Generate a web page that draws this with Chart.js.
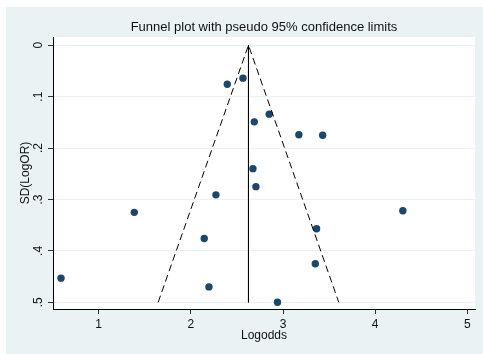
<!DOCTYPE html>
<html>
<head>
<meta charset="utf-8">
<script src="https://cdn.jsdelivr.net/npm/chart.js@4/dist/chart.umd.min.js"></script>
<style>
  html, body { margin: 0; padding: 0; background: #fff; }
  #wrap { width: 483px; height: 354px; }
</style>
</head>
<body>
<div id="wrap"><canvas id="funnel"></canvas></div>
<script>
// study estimates
const logOdds = [2.395, 2.565, 2.85, 2.688, 3.172, 3.43, 2.674, 2.706, 2.272, 1.386,
                 4.30, 3.364, 2.145, 3.35, 0.591, 2.196, 2.94];
const sdLogOR = [0.076, 0.064, 0.134, 0.149, 0.174, 0.175, 0.240, 0.275, 0.291, 0.325,
                 0.322, 0.357, 0.376, 0.425, 0.453, 0.470, 0.500];

// pooled estimate and pseudo 95% limits
const pooledX = [2.625, 2.625];
const pooledY = [0, 0.5];
const limitX = [1.645, 2.625, 3.605];
const limitY = [0.5, 0, 0.5];

const xTicks = [1, 2, 3, 4, 5];
const yTicks = [0, 0.1, 0.2, 0.3, 0.4, 0.5];
const yTickLabels = ['0', '.1', '.2', '.3', '.4', '.5'];

const navy = '#1A476F';
const band = '#EAF2F3';
const font = { family: 'Liberation Sans, Arial, sans-serif', size: 12 };

const zip = (xs, ys) => xs.map((x, i) => ({ x: x, y: ys[i] }));

// outer graph region and white plot region, Stata style
const backdrop = {
  id: 'backdrop',
  beforeDraw(chart) {
    const { ctx, chartArea: a } = chart;
    ctx.save();
    ctx.fillStyle = '#fff';
    ctx.fillRect(0, 0, chart.width, chart.height);
    ctx.fillStyle = band;
    ctx.fillRect(6, 7, chart.width - 6, chart.height - 7);
    ctx.fillStyle = '#fff';
    ctx.fillRect(a.left, a.top, a.right - a.left, a.bottom - a.top);
    ctx.restore();
  }
};

new Chart(document.getElementById('funnel'), {
  type: 'scatter',
  data: {
    datasets: [
      {
        type: 'line',
        data: zip(limitX, limitY),
        borderColor: '#000',
        borderWidth: 1,
        borderDash: [7, 4],
        pointRadius: 0,
        fill: false
      },
      {
        type: 'line',
        data: zip(pooledX, pooledY),
        borderColor: '#000',
        borderWidth: 1,
        pointRadius: 0,
        fill: false
      },
      {
        data: zip(logOdds, sdLogOR),
        backgroundColor: navy,
        borderWidth: 0,
        pointRadius: 3.7,
        pointHoverRadius: 3.7
      }
    ]
  },
  options: {
    responsive: true,
    maintainAspectRatio: false,
    animation: false,
    events: [],
    layout: { padding: { left: 0, right: 8, top: 0, bottom: 0 } },
    plugins: {
      legend: { display: false },
      tooltip: { enabled: false },
      title: {
        display: true,
        fullSize: false,
        text: 'Funnel plot with pseudo 95% confidence limits',
        color: '#111',
        font: { family: font.family, size: 13, weight: 'normal', lineHeight: 1.2 },
        padding: { top: 20, bottom: 1.4 }
      }
    },
    scales: {
      x: {
        type: 'linear',
        min: 0.504,
        max: 5.083,
        afterBuildTicks: s => { s.ticks = xTicks.map(v => ({ value: v })); },
        afterFit: s => { s.height = 45; },
        border: { display: true, color: '#000', width: 1 },
        grid: { drawOnChartArea: false, drawTicks: true, tickLength: 5, tickColor: '#333' },
        ticks: { color: '#111', font: font, padding: 3, maxRotation: 0 },
        title: {
          display: true,
          text: 'Logodds',
          color: '#111',
          font: font,
          padding: { top: 0, bottom: 11 }
        }
      },
      y: {
        type: 'linear',
        reverse: true,
        min: -0.016,
        max: 0.513,
        afterBuildTicks: s => { s.ticks = yTicks.map(v => ({ value: v })); },
        afterFit: s => { s.width = 53; },
        border: { display: true, color: '#000', width: 1 },
        grid: { color: band, lineWidth: 1, drawTicks: true, tickLength: 5, tickColor: '#333' },
        ticks: {
          color: '#111',
          font: font,
          padding: 4,
          minRotation: 90,
          maxRotation: 90,
          crossAlign: 'center',
          callback: (v, i) => yTickLabels[i]
        },
        title: {
          display: true,
          text: 'SD(LogOR)',
          color: '#111',
          font: font,
          padding: { top: 18, bottom: 0 }
        }
      }
    }
  },
  plugins: [backdrop]
});
</script>
</body>
</html>
